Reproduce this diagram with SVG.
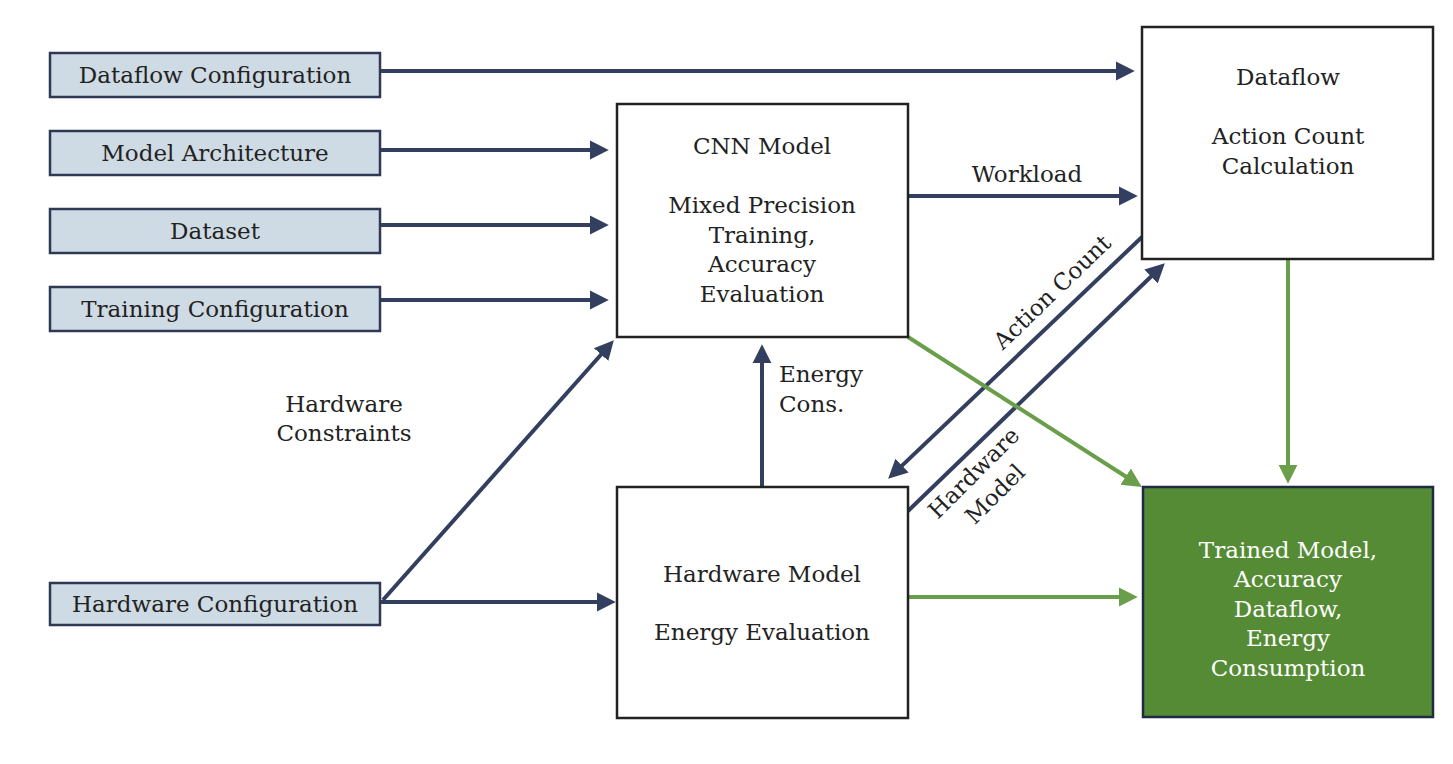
<svg xmlns="http://www.w3.org/2000/svg" width="1453" height="764" viewBox="0 0 1453 764">
<defs>
<style>
text{font-family:"DejaVu Serif","Liberation Serif",serif;font-size:23px;fill:#222;text-anchor:middle}
.in rect{fill:#cfdbe4;stroke:#2e3a55;stroke-width:2.5}
.box rect{fill:#fff;stroke:#222;stroke-width:2.5}
.out rect{fill:#558b35;stroke:#1f2a44;stroke-width:2.5}
.out text{fill:#fff}
.c{stroke:#333f5e;stroke-width:4;fill:none;marker-end:url(#ah)}
.g{stroke:#6a9e4a;stroke-width:4;fill:none;marker-end:url(#ag)}
</style>
<marker id="ah" viewBox="0 0 10 10" refX="7" refY="5" markerWidth="4.8" markerHeight="5.5" orient="auto"><path d="M0,0 L10,5 L0,10 z" fill="#333f5e"/></marker>
<marker id="ag" viewBox="0 0 10 10" refX="7" refY="5" markerWidth="4.8" markerHeight="5.5" orient="auto"><path d="M0,0 L10,5 L0,10 z" fill="#6a9e4a"/></marker>
</defs>
<rect width="1453" height="764" fill="#fff"/>
<g id="connectors">
<line class="c" x1="381" y1="71" x2="1129" y2="71"/>
<line class="c" x1="381" y1="150" x2="603" y2="150"/>
<line class="c" x1="381" y1="225" x2="603" y2="225"/>
<line class="c" x1="381" y1="300" x2="603" y2="300"/>
<line class="c" x1="383" y1="600" x2="610" y2="344.5"/>
<line class="c" x1="381" y1="602" x2="610" y2="602"/>
<line class="c" x1="908" y1="196" x2="1132" y2="196"/>
<line class="c" x1="1142" y1="237" x2="892.3" y2="474.9"/>
<line class="c" x1="908" y1="511" x2="1160.7" y2="267.2"/>
<line class="c" x1="762" y1="486" x2="762" y2="350"/>
<line class="g" x1="908" y1="337" x2="1137" y2="483.8"/>
<line class="g" x1="1288" y1="257" x2="1288" y2="478"/>
<line class="g" x1="908" y1="597" x2="1132" y2="597"/>
<text x="1027" y="182">Workload</text>
<text x="779" y="382" style="text-anchor:start">Energy</text>
<text x="779" y="412" style="text-anchor:start">Cons.</text>
<text x="344" y="412">Hardware</text>
<text x="344" y="441">Constraints</text>
<text transform="translate(1052,292) rotate(-44)" y="8">Action Count</text>
<text transform="translate(985,484) rotate(-45)"><tspan x="0" y="-8">Hardware</tspan><tspan x="0" y="22">Model</tspan></text>
</g>
<g id="dataflow-config" class="in"><rect x="50" y="53" width="330" height="44"/><text x="215" y="83">Dataflow Configuration</text></g>
<g id="model-arch" class="in"><rect x="50" y="131" width="330" height="44"/><text x="215" y="161">Model Architecture</text></g>
<g id="dataset" class="in"><rect x="50" y="209" width="330" height="44"/><text x="215" y="239">Dataset</text></g>
<g id="training-config" class="in"><rect x="50" y="287" width="330" height="44"/><text x="215" y="317">Training Configuration</text></g>
<g id="hardware-config" class="in"><rect x="50" y="583" width="330" height="42"/><text x="215" y="612">Hardware Configuration</text></g>
<g id="cnn-model" class="box"><rect x="617" y="104" width="291" height="233"/>
<text x="762" y="154">CNN Model</text><text x="762" y="213">Mixed Precision</text><text x="762" y="243">Training,</text><text x="762" y="272">Accuracy</text><text x="762" y="302">Evaluation</text></g>
<g id="dataflow" class="box"><rect x="1142" y="27" width="291" height="232"/>
<text x="1288" y="85">Dataflow</text><text x="1288" y="144">Action Count</text><text x="1288" y="174">Calculation</text></g>
<g id="hardware-model" class="box"><rect x="617" y="487" width="291" height="231"/>
<text x="762" y="582">Hardware Model</text><text x="762" y="640">Energy Evaluation</text></g>
<g id="result" class="out"><rect x="1143" y="487" width="290" height="230"/>
<text x="1288" y="558">Trained Model,</text><text x="1288" y="587">Accuracy</text><text x="1288" y="617">Dataflow,</text><text x="1288" y="646">Energy</text><text x="1288" y="676">Consumption</text></g>
</svg>
